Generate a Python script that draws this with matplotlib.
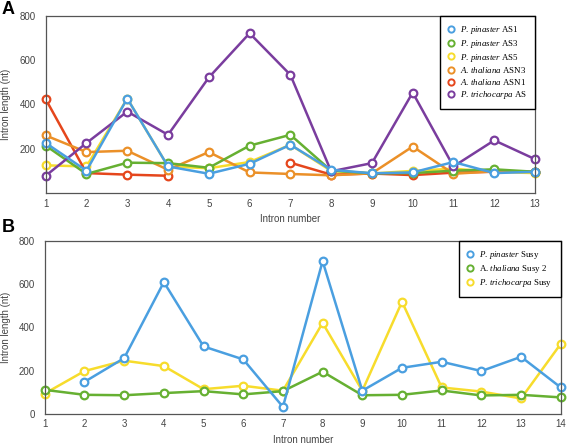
import numpy as np
import matplotlib
matplotlib.use("Agg")
import matplotlib.pyplot as plt

nan = np.nan

# panel A
introns_a = list(range(1, 14))
pp_as1 = [226, 101, 427, 120, 87, 132, 218, 105, 89, 93, 140, 90, 96]
pp_as3 = [214, 86, 137, 135, 114, 214, 263, 101, 89, 90, 101, 107, 96]
pp_as5 = [125, 120, 427, 120, 112, 140, 218, 100, 88, 100, 110, 95, 90]
at_asn3 = [260, 185, 191, 105, 185, 93, 86, 80, 89, 210, 87, 98, 96]
at_asn1 = [424, 90, 83, 78, nan, nan, 137, 83, 88, 81, 92, 96, 96]
pt_as = [78, 226, 368, 263, 522, 722, 534, 98, 135, 454, 120, 238, 153]

# panel B
introns_b = list(range(1, 15))
pp_susy = [nan, 148, 258, 610, 312, 252, 32, 707, 107, 213, 241, 198, 264, 122]
at_susy2 = [111, 88, 86, 96, 105, 90, 105, 195, 86, 88, 108, 85, 88, 76]
pt_susy = [94, 198, 246, 221, 114, 130, 107, 421, 107, 519, 122, 103, 71, 324]

BLUE = "#4a9fe0"
GREEN = "#66b032"
YELLOW = "#f7dc2c"
ORANGE = "#eb9028"
RED = "#e5461c"
PURPLE = "#7a3d9e"

plt.rcParams["font.family"] = "Liberation Sans"
plt.rcParams["mathtext.fontset"] = "custom"
plt.rcParams["mathtext.rm"] = "Liberation Serif"
plt.rcParams["mathtext.it"] = "Liberation Serif:italic"

fig = plt.figure(figsize=(5.67, 4.44), dpi=100)
ax1 = fig.add_axes([0.0806, 0.5653, 0.863, 0.3987])
ax2 = fig.add_axes([0.079, 0.068, 0.910, 0.389])

def draw(ax, x, ys, labels, colors, order):
    lines = {}
    for i in order:
        c = colors[i]
        lines[i], = ax.plot(x, ys[i], color=c, lw=1.8, marker="o", ms=5.5,
                            mfc="white", mec=c, mew=1.6, label=labels[i],
                            clip_on=False)
    return [lines[i] for i in range(len(ys))]

h1 = draw(ax1, introns_a,
          [pp_as1, pp_as3, pp_as5, at_asn3, at_asn1, pt_as],
          [r"$\it{P.\,pinaster}$ AS1", r"$\it{P.\,pinaster}$ AS3",
           r"$\it{P.\,pinaster}$ AS5", r"$\it{A.\,thaliana}$ ASN3",
           r"$\it{A.\,thaliana}$ ASN1", r"$\it{P.\,trichocarpa}$ AS"],
          [BLUE, GREEN, YELLOW, ORANGE, RED, PURPLE],
          [2, 4, 3, 1, 5, 0])
h2 = draw(ax2, introns_b,
          [pp_susy, at_susy2, pt_susy],
          [r"$\it{P.\,pinaster}$ Susy", r"A. $\it{thaliana}$ Susy 2",
           r"$\it{P.\,trichocarpa}$ Susy"],
          [BLUE, GREEN, YELLOW],
          [2, 1, 0])

for ax, xs, hs in ((ax1, introns_a, h1), (ax2, introns_b, h2)):
    ax.set_xlim(xs[0], xs[-1])
    ax.set_ylim(0, 800)
    ax.set_xticks(xs)
    for s in ax.spines.values():
        s.set_color("#555555")
        s.set_linewidth(0.9)
    ax.tick_params(length=0, labelsize=7, colors="#444444", pad=4)
    ax.tick_params(axis="y", pad=7)
    ax.set_xlabel("Intron number", fontsize=7, color="#444444", labelpad=4)
    ax.set_ylabel("Intron length (nt)", fontsize=7, color="#444444")
    leg = ax.legend(handles=hs, loc="upper right", bbox_to_anchor=(1, 1),
                    borderaxespad=0,
                    prop={"family": "Liberation Serif", "size": 6.4},
                    frameon=True, fancybox=False, handlelength=0.8,
                    labelspacing=0.2, borderpad=0.9, handletextpad=0.6,
                    framealpha=1)
    leg.get_frame().set_edgecolor("black")
    leg.get_frame().set_linewidth(1.0)
    for h in leg.get_lines():
        h.set_linestyle("none")
        h.set_markersize(4.5)
        h.set_markeredgewidth(1.4)

ax1.yaxis.set_label_coords(-0.071, 0.5)
ax2.yaxis.set_label_coords(-0.066, 0.5)
ax1.set_yticks([200, 400, 600, 800])
ax2.set_yticks([0, 200, 400, 600, 800])

fig.text(0.003, 0.997, "A", fontsize=13, fontweight="bold", va="top")
fig.text(0.003, 0.507, "B", fontsize=13, fontweight="bold", va="top")

fig.savefig("out.png", dpi=100)
